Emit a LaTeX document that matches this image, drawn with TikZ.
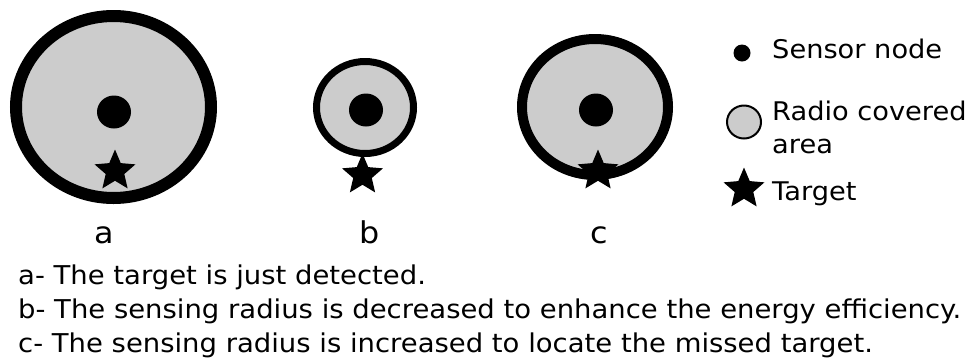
\documentclass[tikz,border=0pt]{standalone}
\usepackage{fontspec}
\setmainfont{DejaVu Sans}[FakeStretch=1.06]
\usetikzlibrary{shapes.geometric}
\definecolor{areagray}{HTML}{CCCCCC}
\tikzset{
  area/.style={draw=black, fill=areagray},
  sensor/.style={fill=black},
  target/.style={star, star points=5, star point ratio=2.2, fill=black,
                 draw=none, inner sep=0pt, minimum size=43pt},
  caption/.style={anchor=base, font=\fontsize{30}{30}\selectfont, inner sep=0pt},
  legendtext/.style={anchor=base west, font=\fontsize{25.7}{25.7}\selectfont, inner sep=0pt},
  bodytext/.style={anchor=base west, font=\fontsize{25.9}{25.9}\selectfont, inner sep=0pt}
}
\begin{document}
\begin{tikzpicture}[x=1pt, y=-1pt]
\useasboundingbox (0,0) rectangle (969,360);

% case a: large sensing area, target just inside the border
\draw[area, line width=12pt] (113.5,107) ellipse [x radius=97.5, y radius=91];
\fill[sensor] (114,112) ellipse [x radius=17, y radius=16.5];
\node[target] (ta) at (115,171) {};
\node[caption] (la) at (104,243) {a};

% case b: reduced sensing area, target outside
\draw[area, line width=7pt] (365,107.5) ellipse [x radius=48.5, y radius=46];
\fill[sensor] (366,110) ellipse [x radius=17, y radius=16.5];
\node[target] (tb) at (362.5,175) {};
\node[caption] (lb) at (370,243) {b};

% case c: enlarged sensing area, target on the border
\draw[area, line width=10pt] (595,107) ellipse [x radius=73, y radius=68];
\fill[sensor] (596,110) ellipse [x radius=17, y radius=16.5];
\node[target] (tc) at (598,171) {};
\node[caption] (lc) at (599,243) {c};

% legend
\fill[sensor] (742,53) circle [radius=8.5];
\node[legendtext] (l1) at (772,58) {Sensor node};
\draw[area, line width=2pt] (744,122) ellipse [x radius=17, y radius=16.5];
\node[legendtext] (l2) at (772,120) {Radio covered};
\node[legendtext] (l3) at (772,153) {area};
\node[target] (tl) at (744,189) {};
\node[legendtext] (l4) at (772,200) {Target};

% explanations
\node[bodytext] (e1) at (18,284) {a- The target is just detected.};
\node[bodytext] (e2) at (18,318) {b- The sensing radius is decreased to enhance the energy efficiency.};
\node[bodytext] (e3) at (18,352) {c- The sensing radius is increased to locate the missed target.};
\end{tikzpicture}
\end{document}
